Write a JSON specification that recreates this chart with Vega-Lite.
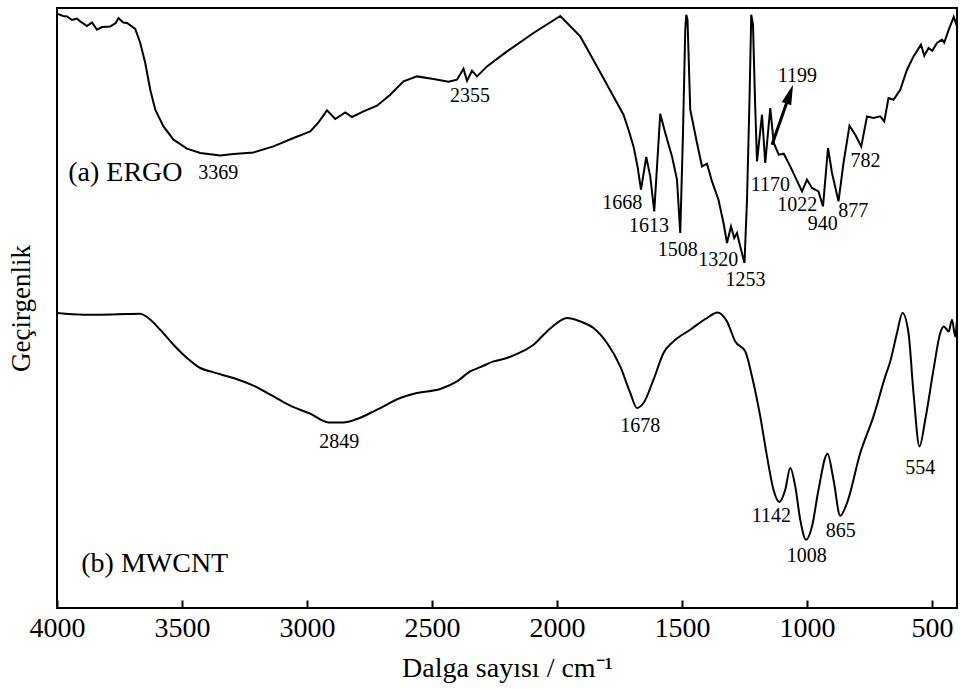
{
  "$schema": "https://vega.github.io/schema/vega-lite/v6.json",
  "width": 900,
  "height": 600,
  "autosize": {"type": "none"},
  "padding": {"left": 57, "top": 8, "right": 3, "bottom": 81},
  "background": "white",
  "config": {
    "view": {"stroke": "#000", "strokeWidth": 2},
    "font": "Liberation Serif",
    "axis": {"grid": false}
  },
  "datasets": {
    "ergo": [
      {"wn": 4000, "t": 594.3}, {"wn": 3975, "t": 592}, {"wn": 3960, "t": 591.6}, {"wn": 3940, "t": 588}, {"wn": 3920, "t": 589.5},
      {"wn": 3907, "t": 586.6}, {"wn": 3880, "t": 582}, {"wn": 3860, "t": 585.5}, {"wn": 3840, "t": 578.3}, {"wn": 3820, "t": 581},
      {"wn": 3787, "t": 581.6}, {"wn": 3765, "t": 585}, {"wn": 3754, "t": 590}, {"wn": 3735, "t": 585.5}, {"wn": 3720, "t": 585},
      {"wn": 3687, "t": 579}, {"wn": 3667, "t": 565}, {"wn": 3647, "t": 545}, {"wn": 3627, "t": 518.3}, {"wn": 3607, "t": 498.3},
      {"wn": 3574, "t": 481.6}, {"wn": 3534, "t": 468.3}, {"wn": 3480, "t": 459.3}, {"wn": 3427, "t": 455}, {"wn": 3347, "t": 452.6},
      {"wn": 3294, "t": 454}, {"wn": 3214, "t": 455.6}, {"wn": 3134, "t": 461.6}, {"wn": 3054, "t": 470}, {"wn": 2987, "t": 476.6},
      {"wn": 2954, "t": 485.6}, {"wn": 2920, "t": 497.6}, {"wn": 2887, "t": 489}, {"wn": 2847, "t": 495.6}, {"wn": 2820, "t": 491},
      {"wn": 2774, "t": 496.6}, {"wn": 2720, "t": 502.3}, {"wn": 2667, "t": 513.3}, {"wn": 2614, "t": 526.6}, {"wn": 2560, "t": 531.6},
      {"wn": 2494, "t": 529}, {"wn": 2434, "t": 526.3}, {"wn": 2400, "t": 528.3}, {"wn": 2374, "t": 539.3}, {"wn": 2360, "t": 527.3},
      {"wn": 2340, "t": 537.3}, {"wn": 2320, "t": 531.6}, {"wn": 2280, "t": 541.6}, {"wn": 2200, "t": 556.6}, {"wn": 2094, "t": 575},
      {"wn": 1987, "t": 592}, {"wn": 1907, "t": 571.6}, {"wn": 1840, "t": 541.6}, {"wn": 1774, "t": 511.6}, {"wn": 1734, "t": 493.3},
      {"wn": 1714, "t": 478.3}, {"wn": 1694, "t": 461.6}, {"wn": 1678, "t": 441.6}, {"wn": 1664, "t": 418.3}, {"wn": 1643, "t": 451},
      {"wn": 1627, "t": 431.6}, {"wn": 1611, "t": 396.6}, {"wn": 1587, "t": 494.3}, {"wn": 1567, "t": 475}, {"wn": 1540, "t": 451.6},
      {"wn": 1520, "t": 428.3}, {"wn": 1507, "t": 375}, {"wn": 1496, "t": 475.3}, {"wn": 1487, "t": 578.3}, {"wn": 1483, "t": 593.3},
      {"wn": 1478, "t": 588.3}, {"wn": 1467, "t": 498.3}, {"wn": 1440, "t": 465}, {"wn": 1420, "t": 441.6}, {"wn": 1400, "t": 444.3},
      {"wn": 1380, "t": 426.6}, {"wn": 1354, "t": 408.3}, {"wn": 1334, "t": 385}, {"wn": 1320, "t": 365}, {"wn": 1304, "t": 381.6},
      {"wn": 1291, "t": 370}, {"wn": 1280, "t": 375}, {"wn": 1267, "t": 361.6}, {"wn": 1250, "t": 345}, {"wn": 1240, "t": 408.3},
      {"wn": 1230, "t": 508.3}, {"wn": 1223, "t": 593.3}, {"wn": 1216, "t": 583.3}, {"wn": 1208, "t": 508.3}, {"wn": 1200, "t": 446.6},
      {"wn": 1180, "t": 493.3}, {"wn": 1167, "t": 445}, {"wn": 1147, "t": 500}, {"wn": 1133, "t": 465}, {"wn": 1113, "t": 453.3},
      {"wn": 1093, "t": 454.3}, {"wn": 1067, "t": 441.6}, {"wn": 1020, "t": 416.6}, {"wn": 1000, "t": 428.3}, {"wn": 980, "t": 420},
      {"wn": 954, "t": 416.6}, {"wn": 936, "t": 401.6}, {"wn": 916, "t": 460}, {"wn": 900, "t": 435}, {"wn": 874, "t": 406.6},
      {"wn": 854, "t": 445}, {"wn": 830, "t": 482.3}, {"wn": 807, "t": 473.3}, {"wn": 783, "t": 461.6}, {"wn": 760, "t": 491.6},
      {"wn": 734, "t": 490}, {"wn": 707, "t": 491.6}, {"wn": 691, "t": 486.6}, {"wn": 674, "t": 510}, {"wn": 654, "t": 508.3},
      {"wn": 627, "t": 518.3}, {"wn": 600, "t": 538.3}, {"wn": 574, "t": 551.6}, {"wn": 544, "t": 563.3}, {"wn": 531, "t": 552.3},
      {"wn": 514, "t": 560}, {"wn": 499, "t": 557.3}, {"wn": 480, "t": 565}, {"wn": 460, "t": 568.3}, {"wn": 451, "t": 565.3},
      {"wn": 433, "t": 578.3}, {"wn": 413, "t": 591}, {"wn": 400, "t": 581.6}
    ],
    "mwcnt": [
      {"wn": 4000, "t": 295}, {"wn": 3894, "t": 293.3}, {"wn": 3827, "t": 293.3}, {"wn": 3720, "t": 294}, {"wn": 3667, "t": 294.3},
      {"wn": 3640, "t": 291}, {"wn": 3587, "t": 278.3}, {"wn": 3534, "t": 263.3}, {"wn": 3480, "t": 250}, {"wn": 3427, "t": 240},
      {"wn": 3374, "t": 235.6}, {"wn": 3294, "t": 230}, {"wn": 3214, "t": 222.3}, {"wn": 3134, "t": 211.6}, {"wn": 3067, "t": 202.3},
      {"wn": 2987, "t": 194.3}, {"wn": 2914, "t": 185.6}, {"wn": 2854, "t": 185.6}, {"wn": 2800, "t": 189}, {"wn": 2720, "t": 198.3},
      {"wn": 2627, "t": 210}, {"wn": 2560, "t": 215}, {"wn": 2467, "t": 219}, {"wn": 2400, "t": 226.6}, {"wn": 2347, "t": 236.6},
      {"wn": 2307, "t": 240.8}, {"wn": 2254, "t": 246.6}, {"wn": 2200, "t": 250}, {"wn": 2147, "t": 255.6}, {"wn": 2094, "t": 263.3},
      {"wn": 2040, "t": 276.6}, {"wn": 2000, "t": 285}, {"wn": 1960, "t": 290}, {"wn": 1907, "t": 286.6}, {"wn": 1854, "t": 280},
      {"wn": 1800, "t": 265}, {"wn": 1747, "t": 241.6}, {"wn": 1707, "t": 215}, {"wn": 1680, "t": 200}, {"wn": 1654, "t": 205},
      {"wn": 1614, "t": 228.3}, {"wn": 1574, "t": 255}, {"wn": 1534, "t": 266.6}, {"wn": 1467, "t": 278.3}, {"wn": 1400, "t": 290},
      {"wn": 1358, "t": 295.6}, {"wn": 1320, "t": 286.6}, {"wn": 1287, "t": 266.6}, {"wn": 1247, "t": 256.6}, {"wn": 1220, "t": 231.6},
      {"wn": 1187, "t": 191.6}, {"wn": 1160, "t": 151.6}, {"wn": 1134, "t": 118.3}, {"wn": 1111, "t": 106}, {"wn": 1087, "t": 118.3},
      {"wn": 1067, "t": 140}, {"wn": 1047, "t": 121.6}, {"wn": 1027, "t": 88.3}, {"wn": 1004, "t": 68.3}, {"wn": 980, "t": 81.6},
      {"wn": 954, "t": 118.3}, {"wn": 918, "t": 154.3}, {"wn": 894, "t": 128.3}, {"wn": 867, "t": 92.3}, {"wn": 840, "t": 105},
      {"wn": 787, "t": 155}, {"wn": 734, "t": 191.6}, {"wn": 687, "t": 231.6}, {"wn": 667, "t": 246.6}, {"wn": 640, "t": 275},
      {"wn": 618, "t": 295}, {"wn": 594, "t": 275}, {"wn": 574, "t": 215}, {"wn": 550, "t": 161.6}, {"wn": 527, "t": 188.3},
      {"wn": 494, "t": 238.3}, {"wn": 467, "t": 275}, {"wn": 453, "t": 281.6}, {"wn": 433, "t": 276.6}, {"wn": 420, "t": 288.3},
      {"wn": 407, "t": 271.6}, {"wn": 400, "t": 288.3}
    ],
    "peaks": [
      {"label": "1668", "wn": 1739, "t": 405.3}, {"label": "1613", "wn": 1632, "t": 381.6}, {"label": "1508", "wn": 1517, "t": 358.3},
      {"label": "1320", "wn": 1355, "t": 348.3}, {"label": "1253", "wn": 1246, "t": 328.3}, {"label": "1170", "wn": 1147, "t": 423.3},
      {"label": "1199", "wn": 1039, "t": 532.3}, {"label": "1022", "wn": 1039, "t": 403}, {"label": "940", "wn": 937, "t": 384},
      {"label": "877", "wn": 815, "t": 396.6}, {"label": "782", "wn": 766, "t": 446.6}, {"label": "1678", "wn": 1667, "t": 181.6},
      {"label": "1142", "wn": 1143, "t": 91.6}, {"label": "1008", "wn": 1001, "t": 51.6}, {"label": "865", "wn": 865, "t": 76.6},
      {"label": "554", "wn": 547, "t": 140}, {"label": "3369", "wn": 3355, "t": 435.3}, {"label": "2355", "wn": 2348, "t": 511.6},
      {"label": "2849", "wn": 2871, "t": 165.6}
    ],
    "series": [
      {"label": "(a) ERGO", "wn": 3955, "t": 435.3},
      {"label": "(b) MWCNT", "wn": 3903, "t": 44.3}
    ],
    "arrow": [{"wn": 1140, "t": 463.3, "wn2": 1077, "t2": 508.3}],
    "head": [{"wn": 1069, "t": 513.9}]
  },
  "layer": [
    {
      "data": {"name": "ergo"},
      "mark": {"type": "line", "color": "#000", "strokeWidth": 2, "clip": true},
      "encoding": {
        "x": {
          "field": "wn", "type": "quantitative",
          "scale": {"domain": [4000, 400], "nice": false, "zero": false},
          "axis": {
            "title": "Dalga sayısı / cm⁻¹",
            "values": [4000, 3500, 3000, 2500, 2000, 1500, 1000, 500],
            "format": "d",
            "domain": false,
            "tickSize": -8,
            "tickColor": "#000",
            "tickWidth": 2,
            "labelFont": "Liberation Serif",
            "labelFontSize": 28,
            "labelColor": "#000",
            "labelPadding": 14,
            "labelFlush": false,
            "labelOverlap": false,
            "titleFont": "Liberation Serif",
            "titleFontSize": 28,
            "titleFontWeight": "normal",
            "titleColor": "#000",
            "titlePadding": 12
          }
        },
        "y": {
          "field": "t", "type": "quantitative",
          "scale": {"domain": [0, 600], "nice": false, "zero": false},
          "axis": {
            "title": "Geçirgenlik",
            "labels": false,
            "ticks": false,
            "domain": false,
            "titleFont": "Liberation Serif",
            "titleFontSize": 27,
            "titleFontWeight": "normal",
            "titleColor": "#000",
            "titlePadding": 22
          }
        }
      }
    },
    {
      "data": {"name": "mwcnt"},
      "mark": {"type": "line", "color": "#000", "strokeWidth": 2, "interpolate": "monotone", "clip": true},
      "encoding": {
        "x": {"field": "wn", "type": "quantitative"},
        "y": {"field": "t", "type": "quantitative"}
      }
    },
    {
      "data": {"name": "peaks"},
      "mark": {"type": "text", "font": "Liberation Serif", "fontSize": 20, "color": "#000", "align": "center", "baseline": "middle"},
      "encoding": {
        "x": {"field": "wn", "type": "quantitative"},
        "y": {"field": "t", "type": "quantitative"},
        "text": {"field": "label"}
      }
    },
    {
      "data": {"name": "series"},
      "mark": {"type": "text", "font": "Liberation Serif", "fontSize": 28, "color": "#000", "align": "left", "baseline": "middle"},
      "encoding": {
        "x": {"field": "wn", "type": "quantitative"},
        "y": {"field": "t", "type": "quantitative"},
        "text": {"field": "label"}
      }
    },
    {
      "data": {"name": "arrow"},
      "mark": {"type": "rule", "color": "#000", "strokeWidth": 3},
      "encoding": {
        "x": {"field": "wn", "type": "quantitative"},
        "y": {"field": "t", "type": "quantitative"},
        "x2": {"field": "wn2"},
        "y2": {"field": "t2"}
      }
    },
    {
      "data": {"name": "head"},
      "mark": {"type": "point", "shape": "M0,-1L0.5,1L-0.5,1Z", "filled": true, "color": "#000", "opacity": 1, "size": 400, "angle": 19},
      "encoding": {
        "x": {"field": "wn", "type": "quantitative"},
        "y": {"field": "t", "type": "quantitative"}
      }
    }
  ]
}
